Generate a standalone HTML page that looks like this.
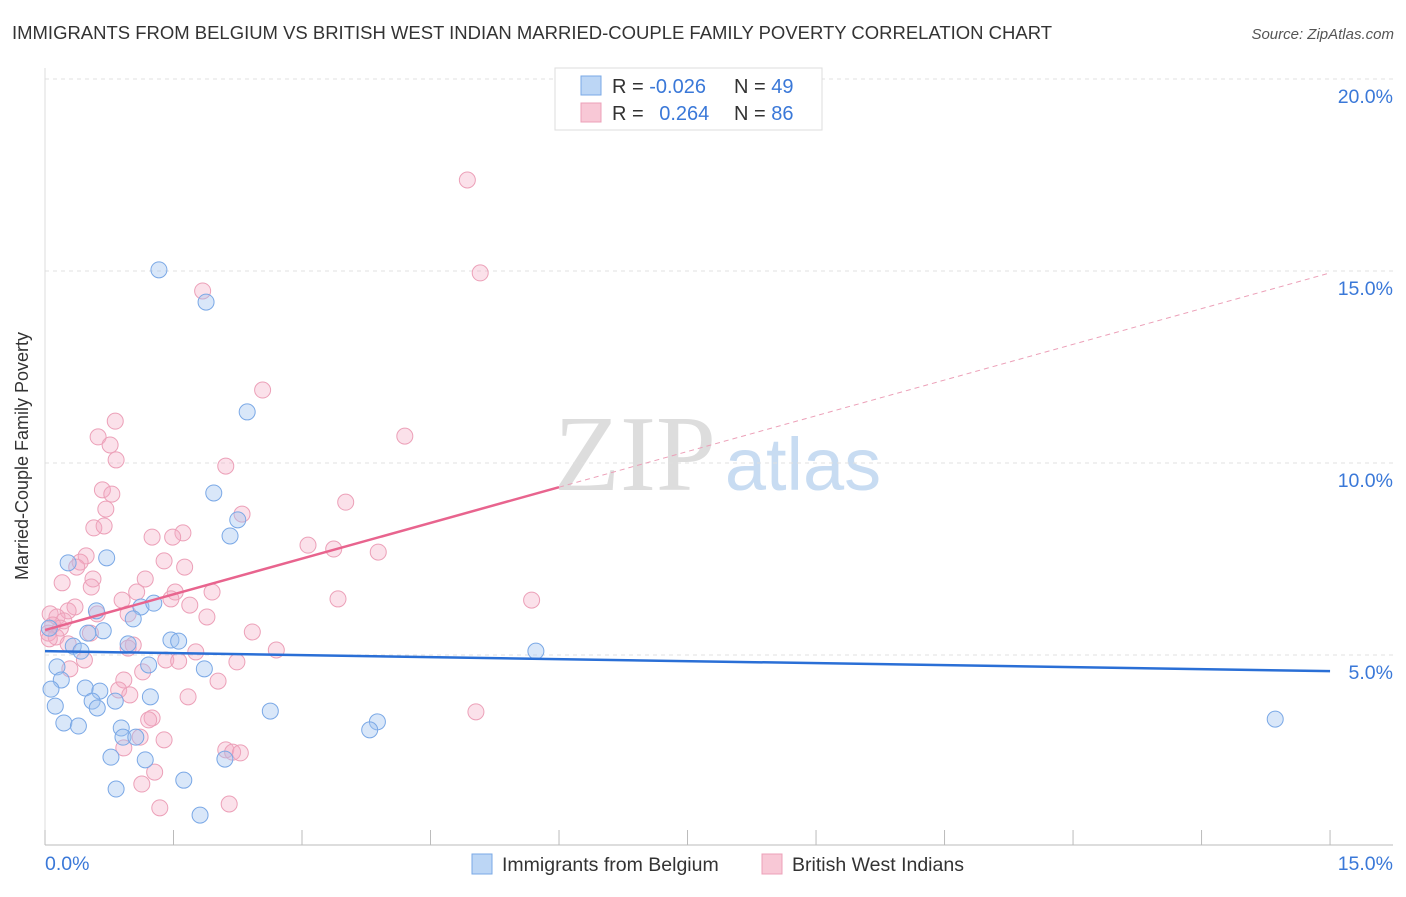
<!DOCTYPE html>
<html><head><meta charset="utf-8"><style>
body{margin:0;background:#fff;font-family:"Liberation Sans",sans-serif}
</style></head><body>
<svg id="c" width="1406" height="892" xmlns="http://www.w3.org/2000/svg">
<text x="12" y="39" font-size="18" fill="#333" textLength="1040" lengthAdjust="spacingAndGlyphs">IMMIGRANTS FROM BELGIUM VS BRITISH WEST INDIAN MARRIED-COUPLE FAMILY POVERTY CORRELATION CHART</text>
<text x="1394" y="39" font-size="15" fill="#555" font-style="italic" text-anchor="end">Source: ZipAtlas.com</text>
<text x="28" y="456" font-size="18" fill="#333" text-anchor="middle" transform="rotate(-90 28 456)">Married-Couple Family Poverty</text>
<text x="635" y="490" font-size="108" fill="#ddd" font-family="Liberation Serif,serif" text-anchor="middle">ZIP</text>
<text x="803" y="490" font-size="74" fill="#c8dcf2" text-anchor="middle">atlas</text>
<g id="grid"></g><g id="pts"></g><g id="lines"></g>
<g>
<rect x="555" y="68" width="267" height="62" fill="#fff" stroke="#ddd"/>
<rect x="581" y="76" width="20" height="19" fill="#bcd6f5" stroke="#7aa8e6"/>
<rect x="581" y="103" width="20" height="19" fill="#f8c8d6" stroke="#eca0b8"/>
<text x="612" y="93" font-size="20" fill="#333">R = <tspan fill="#3a78d8">-0.026</tspan></text>
<text x="734" y="93" font-size="20" fill="#333">N = <tspan fill="#3a78d8">49</tspan></text>
<text x="612" y="120" font-size="20" fill="#333">R = <tspan fill="#3a78d8" dx="10">0.264</tspan></text>
<text x="734" y="120" font-size="20" fill="#333">N = <tspan fill="#3a78d8">86</tspan></text>
</g>
<g>
<rect x="472" y="854" width="20" height="20" fill="#bcd6f5" stroke="#7aa8e6"/>
<text x="502" y="871" font-size="19.5" fill="#333">Immigrants from Belgium</text>
<rect x="762" y="854" width="20" height="20" fill="#f8c8d6" stroke="#eca0b8"/>
<text x="792" y="871" font-size="19.5" fill="#333">British West Indians</text>
</g>
</svg>
<script>
const yTicks=[5,10,15,20];
const yTickLabels=["5.0%","10.0%","15.0%","20.0%"];
const xTickVals=[0,1.5,3,4.5,6,7.5,9,10.5,12,13.5,15];
const blueX=[1.33,1.88,2.36,1.97,2.25,2.16,0.72,0.27,0.60,1.12,1.27,1.03,0.68,0.50,0.97,1.47,1.56,0.33,0.42,1.21,0.14,1.86,0.19,0.07,0.47,0.64,0.55,0.82,1.23,0.12,0.61,2.63,0.22,0.39,0.89,3.88,3.79,0.91,1.06,0.77,1.17,2.10,1.62,0.83,1.81,5.73,14.36,0.05];
const blueY=[15.03,14.19,11.33,9.22,8.52,8.10,7.53,7.40,6.15,6.25,6.35,5.94,5.63,5.57,5.29,5.39,5.36,5.23,5.10,4.74,4.69,4.64,4.35,4.11,4.14,4.06,3.80,3.80,3.91,3.67,3.62,3.54,3.23,3.15,3.10,3.26,3.05,2.86,2.86,2.34,2.27,2.29,1.74,1.51,0.83,5.10,3.33,5.70];
const pinkX=[4.93,5.08,1.84,2.54,0.82,0.62,0.76,4.20,0.83,2.11,0.67,0.78,3.51,2.30,0.71,0.57,0.69,1.25,1.61,1.49,3.07,3.37,3.89,0.48,0.41,1.39,0.37,1.63,1.17,0.56,0.20,0.54,1.07,1.52,1.95,5.68,3.42,0.90,1.47,1.69,0.35,0.27,0.61,0.97,1.89,0.06,0.14,0.22,0.09,0.18,0.04,0.13,0.05,2.42,0.53,1.03,0.97,2.70,0.27,1.76,1.41,1.56,0.46,2.24,0.29,1.14,2.02,0.92,1.67,0.86,0.99,5.03,1.25,1.21,1.39,1.11,0.92,2.11,2.19,2.28,1.28,1.13,2.15,1.34];
const pinkY=[17.37,14.95,14.48,11.90,11.09,10.68,10.47,10.70,10.08,9.92,9.30,9.19,8.98,8.67,8.80,8.31,8.36,8.07,8.18,8.07,7.86,7.76,7.68,7.58,7.42,7.45,7.29,7.29,6.98,6.98,6.88,6.77,6.64,6.64,6.64,6.43,6.46,6.43,6.46,6.30,6.25,6.15,6.07,6.07,5.99,6.07,5.99,5.89,5.78,5.70,5.57,5.47,5.42,5.60,5.57,5.26,5.18,5.13,5.29,5.08,4.87,4.84,4.87,4.82,4.64,4.56,4.32,4.35,3.91,4.09,3.96,3.52,3.36,3.31,2.79,2.86,2.58,2.53,2.47,2.45,1.95,1.64,1.12,1.02];
const blueFit=[5.1,4.58];
const pinkFit=[5.65,14.95];
const pinkSolidEnd=6;
const NS="http://www.w3.org/2000/svg";
const X=v=>45+v*85.67, Y=v=>847-v*38.4;
function mk(t,a,p){const e=document.createElementNS(NS,t);for(const k in a)e.setAttribute(k,a[k]);p.appendChild(e);return e;}
const g=document.getElementById('grid');
yTicks.forEach((t,i)=>{
 const l=mk('line',{x1:45,x2:1393,y1:Y(t),y2:Y(t),stroke:'#e0e0e0','stroke-dasharray':'4,4'},g);
 
 
 const tx=mk('text',{x:1393,y:Y(t)+24,'font-size':19.5,fill:'#3a78d8','text-anchor':'end'},g);
 tx.textContent=yTickLabels[i];
 
 
});
const ax=mk('line',{x1:45,x2:1393,y1:845,y2:845,stroke:'#bbb'},g);


const ay=mk('line',{x1:45,x2:45,y1:68,y2:845,stroke:'#ddd'},g);


xTickVals.forEach(t=>{
 const l=mk('line',{x1:X(t),x2:X(t),y1:830,y2:845,stroke:'#bbb'},g);
 
 
});
const xl0=mk('text',{x:45,y:870,'font-size':19.5,fill:'#3a78d8'},g);xl0.textContent='0.0%';


const xl1=mk('text',{x:1393,y:870,'font-size':19.5,fill:'#3a78d8','text-anchor':'end'},g);xl1.textContent='15.0%';


const pg=document.getElementById('pts');
pinkX.forEach((v,i)=>{
 const c=mk('circle',{cx:X(v),cy:Y(pinkY[i]),r:8,fill:'rgba(244,170,194,0.35)',stroke:'#eca0b8','stroke-width':1},pg);
 
 
});
blueX.forEach((v,i)=>{
 const c=mk('circle',{cx:X(v),cy:Y(blueY[i]),r:8,fill:'rgba(160,196,240,0.4)',stroke:'#7aa8e6','stroke-width':1},pg);
 
 
});
const lg=document.getElementById('lines');
const pY=x=>pinkFit[0]+(pinkFit[1]-pinkFit[0])*x/15;
const bl=mk('line',{x1:X(0),y1:Y(blueFit[0]),x2:X(15),y2:Y(blueFit[1]),stroke:'#2a6fd6','stroke-width':2.5},lg);


const pl=mk('line',{x1:X(0),y1:Y(pY(0)),x2:X(pinkSolidEnd),y2:Y(pY(pinkSolidEnd)),stroke:'#e8648e','stroke-width':2.5},lg);


const pd=mk('line',{x1:X(pinkSolidEnd),y1:Y(pY(pinkSolidEnd)),x2:X(15),y2:Y(pY(15)),stroke:'#eca0b8','stroke-width':1,'stroke-dasharray':'5,4'},lg);


</script>
</body></html>
